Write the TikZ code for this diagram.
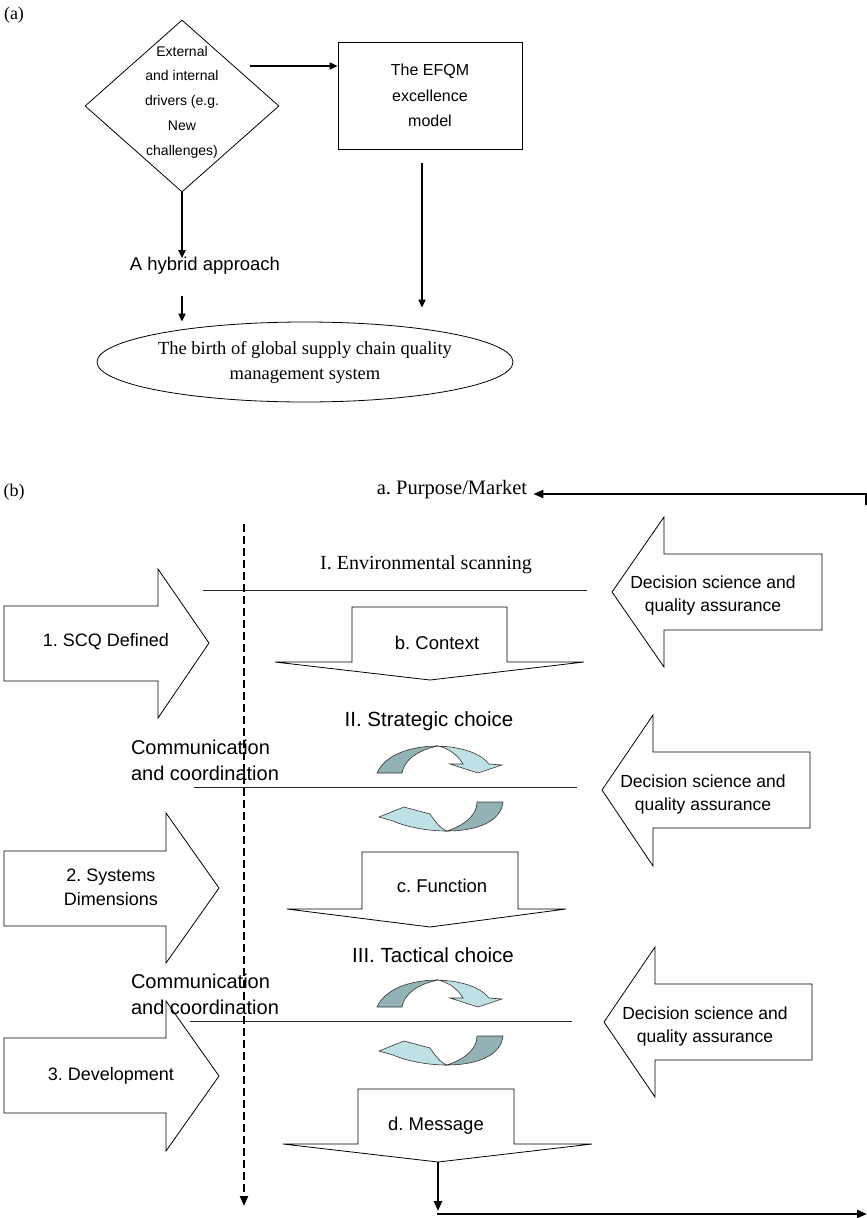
\documentclass[tikz,border=0pt]{standalone}
\usepackage{fontspec}
\setmainfont{Liberation Serif}
\setsansfont{Liberation Sans}
\usepackage{tikz}
\usetikzlibrary{positioning,arrows.meta,shapes.geometric}
\definecolor{loopdark}{HTML}{93B2B6}
\definecolor{looplight}{HTML}{BFE1E5}
\frenchspacing

\begin{document}
\begin{tikzpicture}[x=1pt, y=-1pt,
  sans/.style={font=\sffamily\fontsize{18.5}{25}\selectfont, align=center, inner sep=0pt},
  serif/.style={font=\rmfamily\fontsize{20}{25}\selectfont, align=center, inner sep=0pt},
  frame/.style={draw, line width=0.8pt, fill=white},
  arr/.style={-{Triangle[length=8pt, width=7pt]}, line width=1.8pt},
  longarr/.style={-{Triangle[length=10pt, width=8pt]}, line width=2.2pt},
  sep/.style={line width=1pt, black!85},
  twist/.style={draw=black!80, line width=0.6pt}
]
\useasboundingbox (0,0) rectangle (867,1218);

% part (a): drivers, EFQM and the hybrid approach
\node[serif, font=\rmfamily\fontsize{18}{22}\selectfont] (capa) at (14,15) {(a)};
\node[frame, diamond, minimum width=194pt, minimum height=172pt, inner sep=0pt] (drv) at (182,106) {};
\node[sans, font=\sffamily\fontsize{14}{24.75}\selectfont] (drvtxt) at (182,102)
  {External\\and internal\\drivers (e.g.\\New\\challenges)};
\node[frame, minimum width=184pt, minimum height=107pt, sans,
  font=\sffamily\fontsize{16}{25.5}\selectfont] (efqm) at (430,95.5) {The EFQM\\excellence\\model};
\node[sans] (hyb) at (205,266) {A hybrid approach};
\node[frame, ellipse, minimum width=416pt, minimum height=80pt, inner sep=0pt,
  font=\rmfamily\fontsize{18.5}{25}\selectfont, align=center] (ell) at (305,362)
  {The birth of global supply chain quality\\management system};

\coordinate (drvout) at (250,66);
\draw[arr] (drvout) -- (efqm.west |- drvout);
\draw[arr] (drv.south) -- ([yshift=-1pt]drv.south |- hyb.north);
\draw[arr] ([yshift=-21pt]drv.south |- hyb.south) -- (drv.south |- ell.north);
\draw[arr] ([xshift=-8pt, yshift=-14pt]efqm.south) -- ([xshift=-8pt, yshift=14pt]efqm.south |- ell.north);

% part (b): stages of the system
\node[serif, font=\rmfamily\fontsize{18}{22}\selectfont] (capb) at (14,492) {(b)};
\node[serif, font=\rmfamily\fontsize{20.5}{25}\selectfont] (purp) at (452,490) {a. Purpose/Market};
\coordinate (rtop) at (866,494);
\draw[longarr] (866,505) -- (rtop) -- ([xshift=6pt]purp.east |- rtop);

% separators
\draw[sep] (203,590) -- (587,590);
\draw[sep] (194,787) -- (577,787);
\draw[sep] (190,1021) -- (572,1021);

% left block arrows
\draw[frame] (4,606) -- (158,606) -- (158,569) -- (209,643) -- (158,718) -- (158,681) -- (4,681) -- cycle;
\draw[frame] (4,851) -- (166,851) -- (166,813) -- (219,888) -- (166,963) -- (166,926) -- (4,926) -- cycle;
\draw[frame] (4,1038) -- (166,1038) -- (166,1001) -- (219,1076) -- (166,1151) -- (166,1113) -- (4,1113) -- cycle;
\node[sans, font=\sffamily\fontsize{18}{24}\selectfont] (scq) at (106,642) {1. SCQ Defined};
\node[sans, font=\sffamily\fontsize{18}{24}\selectfont] (sysd) at (111,887) {2. Systems\\Dimensions};
\node[sans, font=\sffamily\fontsize{18}{24}\selectfont] (devt) at (111,1076) {3. Development};

% right block arrows
\draw[frame] (822,554) -- (664,554) -- (664,517) -- (612,592) -- (664,667) -- (664,630) -- (822,630) -- cycle;
\draw[frame] (810,752) -- (653,752) -- (653,715) -- (602,790) -- (653,866) -- (653,828) -- (810,828) -- cycle;
\draw[frame] (812,984) -- (655,984) -- (655,947) -- (604,1022) -- (655,1097) -- (655,1060) -- (812,1060) -- cycle;
\node[sans, font=\sffamily\fontsize{17.5}{23}\selectfont] (dsq1) at (713,595) {Decision science and\\quality assurance};
\node[sans, font=\sffamily\fontsize{17.5}{23}\selectfont] (dsq2) at (703,794) {Decision science and\\quality assurance};
\node[sans, font=\sffamily\fontsize{17.5}{23}\selectfont] (dsq3) at (705,1026) {Decision science and\\quality assurance};

% down chevrons
\draw[frame] (352,607) -- (507,607) -- (507,662) -- (584,662) -- (430,680) -- (275,662) -- (352,662) -- cycle;
\draw[frame] (362,852) -- (518,852) -- (518,909) -- (566,909) -- (430,927) -- (287,909) -- (362,909) -- cycle;
\draw[frame] (358,1089) -- (514,1089) -- (514,1144) -- (592,1144) -- (438,1162) -- (283,1144) -- (358,1144) -- cycle;
\node[sans] (ctx) at (437,643) {b. Context};
\node[sans] (func) at (442,886) {c. Function};
\node[sans] (msg) at (436,1126) {d. Message};

% stage headings and side notes
\node[serif] (env) at (426,565) {I. Environmental scanning};
\node[sans, font=\sffamily\fontsize{20.5}{25}\selectfont] (strat) at (429,721) {II. Strategic choice};
\node[sans, font=\sffamily\fontsize{20.5}{25}\selectfont] (tact) at (433,955) {III. Tactical choice};
\node[sans, font=\sffamily\fontsize{20}{26}\selectfont, align=left] (com1) at (205,760) {Communication\\and coordination};
\node[sans, font=\sffamily\fontsize{20}{26}\selectfont, align=left] (com2) at (205,994) {Communication\\and coordination};

\coordinate (dtop) at (244,524);
\coordinate (dbot) at (244,1206);
\draw[longarr, dash pattern=on 8pt off 4pt] (dtop) -- (dbot);

\coordinate (msgtip) at (438,1162);
\coordinate (botl) at (437,1214);
\coordinate (botr) at (867,1214);
\draw[longarr] (msgtip) -- ([yshift=3pt]msgtip |- botl);
\draw[longarr] (botl) -- (botr);

% twisted loop arrows
\foreach \dy in {0,234} {
  \begin{scope}[shift={(0,\dy)}]
    \filldraw[twist, fill=loopdark] (377,773) .. controls (385,755) and (410,746) .. (438,746)
      .. controls (418,750) and (404,760) .. (402,773) -- cycle;
    \filldraw[twist, fill=looplight] (438,746) .. controls (462,747) and (480,753) .. (489,764)
      -- (502,765) -- (478,773) -- (450,764) -- (463,764)
      .. controls (458,755) and (448,748) .. (438,746) -- cycle;
    \filldraw[twist, fill=loopdark] (503,802) .. controls (501,822) and (476,831) .. (447,831)
      .. controls (465,825) and (477,815) .. (477,802) -- cycle;
    \filldraw[twist, fill=looplight] (447,831) .. controls (425,831) and (404,826) .. (393,821)
      -- (379,817) -- (404,807) -- (430,814)
      .. controls (436,823) and (441,829) .. (447,831) -- cycle;
  \end{scope}
}
\end{tikzpicture}
\end{document}
